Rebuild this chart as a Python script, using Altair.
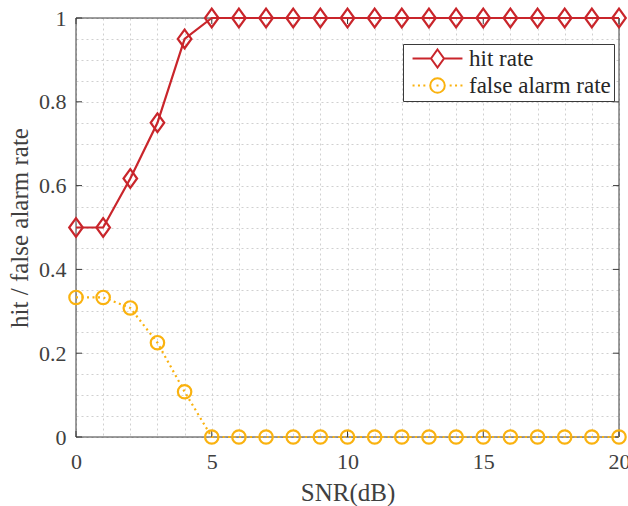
import altair as alt
import pandas as pd

# ---------------- data ----------------
snr_db = [0, 1, 2, 3, 4, 5, 6, 7, 8, 9, 10, 11, 12, 13, 14, 15, 16, 17, 18, 19, 20]
hit_rate = [0.5, 0.5, 0.617, 0.75, 0.95, 1, 1, 1, 1, 1, 1, 1, 1, 1, 1, 1, 1, 1, 1, 1, 1]
false_alarm_rate = [0.333, 0.333, 0.308, 0.225, 0.108, 0, 0, 0, 0, 0, 0, 0, 0, 0, 0, 0, 0, 0, 0, 0, 0]
series_names = ["hit rate", "false alarm rate"]
series_colors = ["#C9252B", "#FAB20F"]

x_grid = [0, 1, 2, 3, 4, 5, 6, 7, 8, 9, 10, 11, 12, 13, 14, 15, 16, 17, 18, 19, 20]
y_grid = [0, 0.05, 0.1, 0.15, 0.2, 0.25, 0.3, 0.35, 0.4, 0.45, 0.5,
          0.55, 0.6, 0.65, 0.7, 0.75, 0.8, 0.85, 0.9, 0.95, 1]
x_ticks = [0, 5, 10, 15, 20]
y_ticks = [0, 0.2, 0.4, 0.6, 0.8, 1]
x_frame = [0, 20]
y_frame = [0, 1]

df = pd.DataFrame({
    "snr": snr_db + snr_db,
    "rate": hit_rate + false_alarm_rate,
    "series": [series_names[0]] * len(snr_db) + [series_names[1]] * len(snr_db),
})
hit_df = pd.DataFrame({"snr": snr_db, "rate": hit_rate})
fa_df = pd.DataFrame({"snr": snr_db, "rate": false_alarm_rate})
xt_df = pd.DataFrame({"snr": x_ticks})
yt_df = pd.DataFrame({"rate": y_ticks})
xf_df = pd.DataFrame({"snr": x_frame})
yf_df = pd.DataFrame({"rate": y_frame})

# ---------------- style ----------------
W, H = 543, 419
FONT = "Liberation Serif"
TXT = "#404040"
AX = "#3a3a3a"
GRID = "#d0d0d0"

DIAMOND = "M0,-1.37L1,0L0,1.37L-1,0Z"
LEG_HIT = "M-3.7,0L-0.96,0M0.96,0L3.7,0M0,-1.33L0.96,0L0,1.33L-0.96,0Z"
LEG_FA = ("M-3.7,0L-3.4,0M-2.9,0L-2.6,0M-2.1,0L-1.8,0M-0.15,0L0.15,0"
          "M1.8,0L2.1,0M2.6,0L2.9,0M3.4,0L3.7,0"
          "M1.08,0A1.08,1.08,0,1,1,-1.08,0A1.08,1.08,0,1,1,1.08,0Z")

xs = alt.Scale(domain=[0, 20], nice=False, zero=False)
ys = alt.Scale(domain=[0, 1], nice=False, zero=False)
cs = alt.Scale(domain=series_names, range=series_colors)

x_axis = alt.Axis(
    values=x_grid, format="~g",
    labelExpr="datum.value % 5 == 0 ? datum.label : ''",
    title="SNR(dB)", grid=True, gridColor=GRID, gridDash=[2, 3], gridWidth=1,
    ticks=False, tickSize=0, domain=False,
    labelFont=FONT, labelFontSize=22, labelColor=TXT, labelPadding=31,
    labelBaseline="alphabetic", labelOverlap=False, labelFlush=False, labelBound=False,
    titleFont=FONT, titleFontSize=25, titleFontWeight="normal", titleColor=TXT,
    titleBaseline="alphabetic", titleY=63,
)
y_axis = alt.Axis(
    values=y_grid, format="~g",
    labelExpr="abs(datum.value * 5 - round(datum.value * 5)) < 0.000001 ? datum.label : ''",
    title="hit / false alarm rate", grid=True, gridColor=GRID, gridDash=[2, 3], gridWidth=1,
    ticks=False, tickSize=0, domain=False,
    labelFont=FONT, labelFontSize=22, labelColor=TXT, labelPadding=10,
    labelOverlap=False, labelBound=False, labelFlush=False,
    titleFont=FONT, titleFontSize=25, titleFontWeight="normal", titleColor=TXT,
    titleAngle=270, titleBaseline="alphabetic", titleAlign="center",
    titleX=-49, titleY=H / 2,
)

X = alt.X("snr:Q", scale=xs, axis=x_axis)
Y = alt.Y("rate:Q", scale=ys, axis=y_axis)

leg = alt.Legend(
    title=None, orient="none", legendX=327, legendY=26, padding=3,
    strokeColor=AX, fillColor="white",
    symbolSize=182, symbolStrokeWidth=2, symbolOpacity=1,
    symbolOffset=20, labelOffset=20,
    labelFont=FONT, labelFontSize=23, labelColor="#262626", rowPadding=2,
)

# ---------------- layers ----------------
line_hit = alt.Chart(hit_df).mark_line(strokeWidth=2.2, color=series_colors[0]).encode(x=X, y=Y)
line_fa = alt.Chart(fa_df).mark_line(
    strokeWidth=2.2, color=series_colors[1], strokeDash=[2, 3.5]).encode(x=X, y=Y)

pts_hit = alt.Chart(hit_df).mark_point(
    shape=DIAMOND, size=185, strokeWidth=2.2, filled=False, opacity=1, color=series_colors[0]
).encode(x=X, y=Y)
pts_fa = alt.Chart(fa_df).mark_point(
    shape="circle", size=180, strokeWidth=2.2, filled=False, opacity=1, color=series_colors[1]
).encode(x=X, y=Y)

legend_layer = alt.Chart(df).transform_filter("false").mark_point(
    filled=False, strokeWidth=2, size=182, opacity=1
).encode(
    x=X, y=Y,
    color=alt.Color("series:N", scale=cs, legend=leg),
    shape=alt.Shape("series:N", scale=alt.Scale(domain=series_names, range=[LEG_HIT, LEG_FA]), legend=leg),
)

tick_bottom = alt.Chart(xt_df).mark_rule(color=AX, strokeWidth=1).encode(
    x=X, y=alt.value(H), y2=alt.value(H - 6))
tick_top = alt.Chart(xt_df).mark_rule(color=AX, strokeWidth=1).encode(
    x=X, y=alt.value(0), y2=alt.value(6))
tick_left = alt.Chart(yt_df).mark_rule(color=AX, strokeWidth=1).encode(
    y=Y, x=alt.value(0), x2=alt.value(6))
tick_right = alt.Chart(yt_df).mark_rule(color=AX, strokeWidth=1).encode(
    y=Y, x=alt.value(W), x2=alt.value(W - 6))

frame_h = alt.Chart(yf_df).mark_rule(color=AX, strokeWidth=1).encode(
    y=Y, x=alt.value(0), x2=alt.value(W))
frame_v = alt.Chart(xf_df).mark_rule(color=AX, strokeWidth=1).encode(
    x=X, y=alt.value(0), y2=alt.value(H))

chart = alt.layer(
    frame_h, frame_v, tick_bottom, tick_top, tick_left, tick_right,
    line_hit, line_fa, pts_hit, pts_fa, legend_layer
).properties(
    width=W, height=H,
    padding={"left": 76, "top": 18, "right": 9, "bottom": 69},
    autosize=alt.AutoSizeParams(type="none"),
    background="white",
).configure_view(stroke=None)

chart.save("out.html", embed_options={"renderer": "svg", "actions": False})
